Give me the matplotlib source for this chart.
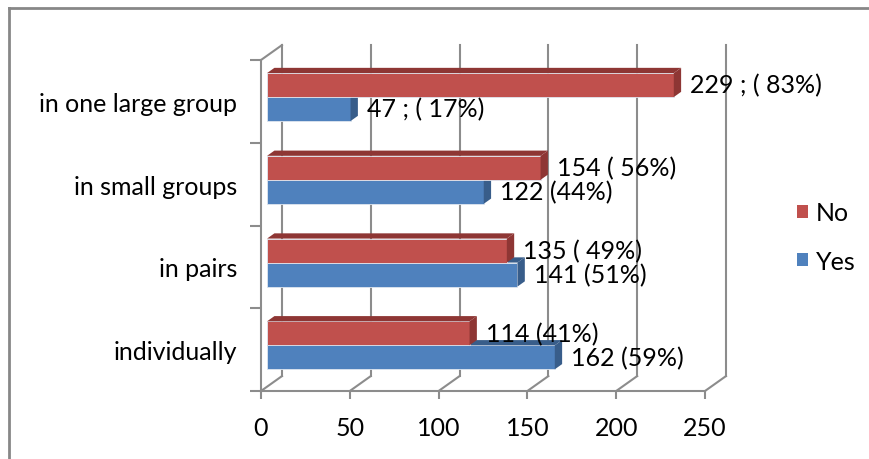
import matplotlib
matplotlib.use("Agg")
import matplotlib.pyplot as plt
from matplotlib.patches import Polygon, Patch
from matplotlib.lines import Line2D

plt.rcParams['font.family'] = ['Lato', 'DejaVu Sans']

categories = ["individually", "in pairs", "in small groups", "in one large group"]
yes_vals = [162, 141, 122, 47]
no_vals = [114, 135, 154, 229]
yes_labels = ["162 (59%)", "141 (51%)", "122 (44%)", "47 ; ( 17%)"]
no_labels = ["114 (41%)", "135 ( 49%)", "154 ( 56%)", "229 ; ( 83%)"]
xticks = [0, 50, 100, 150, 200, 250]

red, red_dark = "#C0504D", "#8E3634"
blue, blue_dark = "#4F81BD", "#385D8A"
grid_c = "#8C8C8C"

W, H = 870, 460
fig = plt.figure(figsize=(W / 100, H / 100), dpi=100)
ax = fig.add_axes([261 / W, (H - 392) / H, 444 / W, 331 / H])
ax.set_xlim(0, 250)
ax.set_ylim(0, 4)

# 3D look: depth offset of the whole plot box, in data units
DX, DY = 11.8, 0.18
f0, d = 0.29, 0.35   # bar front position and bar depth (fractions of box depth)
h = 0.29             # bar thickness

# walls / floor
for v in xticks:
    ax.plot([v, v + DX], [0, DY], color=grid_c, lw=1.5, clip_on=False, zorder=1)
    ax.plot([v + DX, v + DX], [DY, 4 + DY], color=grid_c, lw=1.5, clip_on=False, zorder=1)
ax.plot([0, DX], [4, 4 + DY], color=grid_c, lw=1.5, clip_on=False, zorder=1)


def bar3d(y0, val, face, dark, lab):
    x0 = f0 * DX
    x1 = x0 + val
    ox, oy = d * DX, d * DY
    ax.barh(y0 + h / 2, val, height=h, left=x0, color=face, edgecolor="#dfe6f0",
            lw=0.6, zorder=3, clip_on=False)
    yt = y0 + h
    ax.add_patch(Polygon([(x0, yt), (x1, yt), (x1 + ox, yt + oy), (x0 + ox, yt + oy)],
                         closed=True, fc=dark, ec="none", zorder=3, clip_on=False))
    ax.add_patch(Polygon([(x1, y0), (x1 + ox, y0 + oy), (x1 + ox, yt + oy), (x1, yt)],
                         closed=True, fc=dark, ec="none", zorder=3, clip_on=False))
    ax.text(x1 + ox + 5, y0 + h / 2, lab, fontsize=18, va="center", ha="left", zorder=5)


for i in range(len(categories)):
    c = i + 0.5 + f0 * DY
    bar3d(c - h, yes_vals[i], blue, blue_dark, yes_labels[i])
    bar3d(c, no_vals[i], red, red_dark, no_labels[i])

for s in ["top", "right"]:
    ax.spines[s].set_visible(False)
for s in ["left", "bottom"]:
    ax.spines[s].set_color(grid_c)
    ax.spines[s].set_linewidth(1.5)

ax.set_xticks(xticks)
ax.set_xticklabels([str(v) for v in xticks], fontsize=18)
ax.tick_params(axis="x", length=6, width=1.5, color=grid_c, pad=12)
ax.set_yticks(range(5))
ax.set_yticklabels([])
ax.tick_params(axis="y", length=8, width=1.5, color=grid_c)
ax.set_yticks([i + 0.5 for i in range(4)], minor=True)
ax.set_yticklabels(categories, minor=True, fontsize=18)
ax.tick_params(axis="y", which="minor", length=0, pad=17)

handles = [Patch(fc=red, ec="none"), Patch(fc=blue, ec="none")]
fig.legend(handles, ["No", "Yes"], loc="center left", bbox_to_anchor=(797 / W, 1 - 238 / H),
           frameon=False, fontsize=18, handlelength=0.45, handleheight=0.45,
           handletextpad=0.3, labelspacing=1.0, borderpad=0, borderaxespad=0)

# outer chart frame (left and top edges only visible)
fig.add_artist(Line2D([9 / W, 9 / W], [0, 1 - 9 / H], color="#878787", lw=2, transform=fig.transFigure))
fig.add_artist(Line2D([9 / W, 1], [1 - 9 / H, 1 - 9 / H], color="#878787", lw=2, transform=fig.transFigure))

fig.savefig("out.png", dpi=100)
